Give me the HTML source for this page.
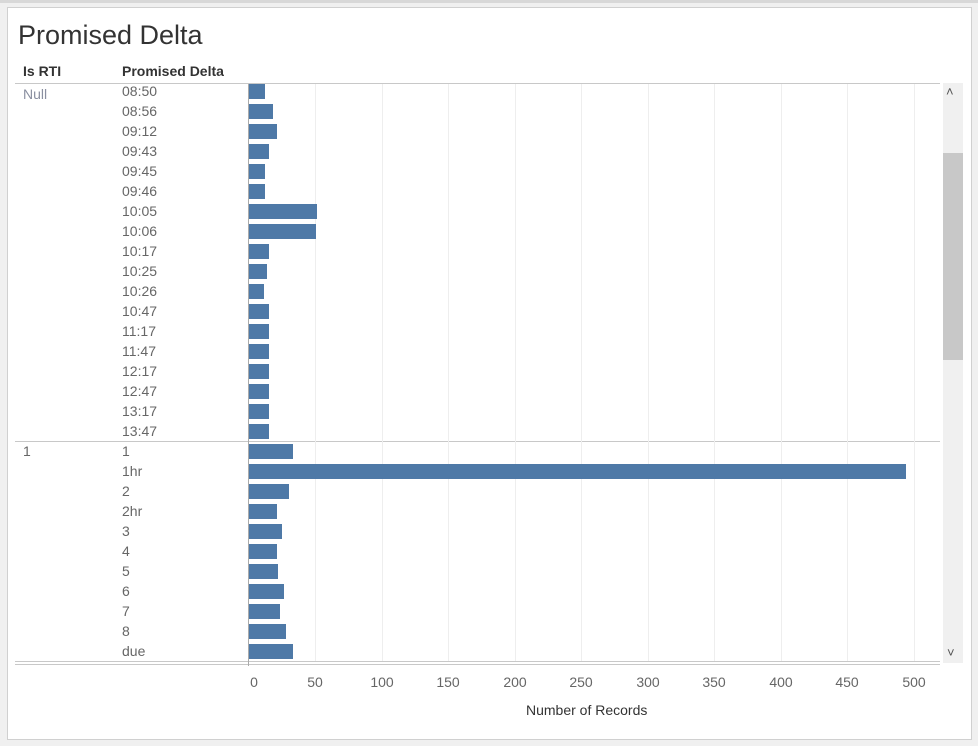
<!DOCTYPE html>
<html><head><style>
body{margin:0;width:978px;height:746px;background:#f0f0f0;position:relative;font-family:"Liberation Sans",sans-serif;overflow:hidden}
.a{position:absolute}
.lbl{position:absolute;font-size:14px;color:#666;line-height:20px}
.bar{position:absolute;left:249px;height:15px;background:#4e79a7}
.g{position:absolute;top:84px;width:1px;height:577px;background:#eeeeee}
.t{position:absolute;top:674px;font-size:14px;color:#666;width:40px;text-align:center}
</style></head><body>
<div class="a" style="left:0;top:0;width:978px;height:3px;background:#d8d8d8"></div>
<div class="a" style="left:7px;top:7px;width:963px;height:731px;background:#fff;border:1px solid #d0d0d0"></div>
<div class="a" style="left:18px;top:20px;font-size:27px;color:#333">Promised Delta</div>
<div class="a" style="left:23px;top:63px;font-size:14px;font-weight:bold;color:#333">Is RTI</div>
<div class="a" style="left:122px;top:63px;font-size:14px;font-weight:bold;color:#333">Promised Delta</div>
<div class="a" style="left:15px;top:83px;width:925px;height:1px;background:#c8c8c8"></div>
<div class="a" style="left:15px;top:441px;width:925px;height:1px;background:#c8c8c8"></div>
<div class="a" style="left:15px;top:661px;width:925px;height:1px;background:#c8c8c8"></div>
<div class="a" style="left:15px;top:664px;width:925px;height:1px;background:#c8c8c8"></div>
<div class="a" style="left:248px;top:84px;width:1px;height:582px;background:#aaa"></div>
<div class="g" style="left:315px"></div><div class="g" style="left:382px"></div><div class="g" style="left:448px"></div><div class="g" style="left:515px"></div><div class="g" style="left:581px"></div><div class="g" style="left:648px"></div><div class="g" style="left:714px"></div><div class="g" style="left:781px"></div><div class="g" style="left:847px"></div><div class="g" style="left:914px"></div>
<div class="lbl" style="left:23px;top:84px;color:#8a8fa0">Null</div>
<div class="lbl" style="left:23px;top:441px">1</div>
<div id="rows"></div>
<div class="a" style="left:943px;top:83px;width:20px;height:580px;background:#f0f0f0"></div>
<div class="a" style="left:943px;top:153px;width:20px;height:207px;background:#c8c8c8"></div>
<div class="a" style="left:946px;top:84px;font-size:13px;color:#555">&#708;</div>
<div class="a" style="left:947px;top:645px;font-size:13px;color:#555">&#709;</div>
<div class="t" style="left:234px">0</div><div class="t" style="left:295px">50</div><div class="t" style="left:362px">100</div><div class="t" style="left:428px">150</div><div class="t" style="left:495px">200</div><div class="t" style="left:561px">250</div><div class="t" style="left:628px">300</div><div class="t" style="left:694px">350</div><div class="t" style="left:761px">400</div><div class="t" style="left:827px">450</div><div class="t" style="left:894px">500</div>
<div class="a" style="left:526px;top:702px;font-size:14px;color:#333">Number of Records</div>
<script>
var d=[["08:50",16],["08:56",24],["09:12",28],["09:43",20],["09:45",16],["09:46",16],["10:05",68],["10:06",67],["10:17",20],["10:25",18],["10:26",15],["10:47",20],["11:17",20],["11:47",20],["12:17",20],["12:47",20],["13:17",20],["13:47",20],
["1",44],["1hr",657],["2",40],["2hr",28],["3",33],["4",28],["5",29],["6",35],["7",31],["8",37],["due",44]];
var h="";d.forEach(function(r,i){var y=i<18?81+i*20:441+(i-18)*20;
h+='<div class="lbl" style="left:122px;top:'+y+'px">'+r[0]+'</div><div class="bar" style="top:'+(y+3)+'px;width:'+r[1]+'px"></div>';});
document.getElementById("rows").innerHTML=h;
</script>
</body></html>
